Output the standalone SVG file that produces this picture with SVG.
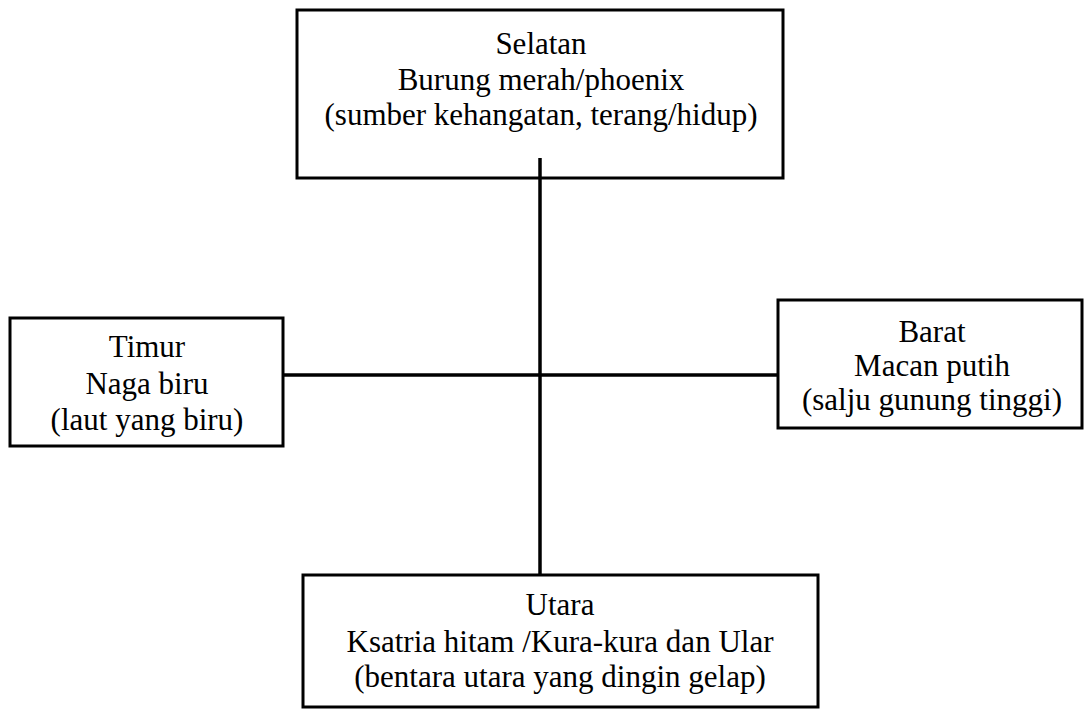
<svg xmlns="http://www.w3.org/2000/svg" width="1084" height="710" viewBox="0 0 1084 710">
<style>
.box{fill:#fff;stroke:#000;stroke-width:3}
.t{font-family:"Liberation Serif","Times New Roman",serif;font-size:31px;fill:#000;text-anchor:middle}
.c{stroke:#000;stroke-width:3.5;fill:none}
</style>
<rect width="1084" height="710" fill="#fff"/>
<g id="selatan">
<rect class="box" x="297" y="10" width="486" height="168"/>
<text class="t" x="541" y="54">Selatan</text>
<text class="t" x="541" y="90">Burung merah/phoenix</text>
<text class="t" x="541" y="125">(sumber kehangatan, terang/hidup)</text>
</g>
<g id="timur">
<rect class="box" x="10" y="318" width="273" height="128"/>
<text class="t" x="147" y="357">Timur</text>
<text class="t" x="147" y="394">Naga biru</text>
<text class="t" x="147" y="430">(laut yang biru)</text>
</g>
<g id="barat">
<rect class="box" x="778" y="300" width="304" height="128"/>
<text class="t" x="932" y="342">Barat</text>
<text class="t" x="932" y="376">Macan putih</text>
<text class="t" x="932" y="410">(salju gunung tinggi)</text>
</g>
<g id="utara">
<rect class="box" x="303" y="575" width="515" height="132"/>
<text class="t" x="560" y="615">Utara</text>
<text class="t" x="560" y="652">Ksatria hitam /Kura-kura dan Ular</text>
<text class="t" x="560" y="687">(bentara utara yang dingin gelap)</text>
</g>
<g id="connectors">
<line class="c" x1="540" y1="158" x2="540" y2="576"/>
<line class="c" x1="283" y1="375" x2="778" y2="375"/>
</g>
</svg>
